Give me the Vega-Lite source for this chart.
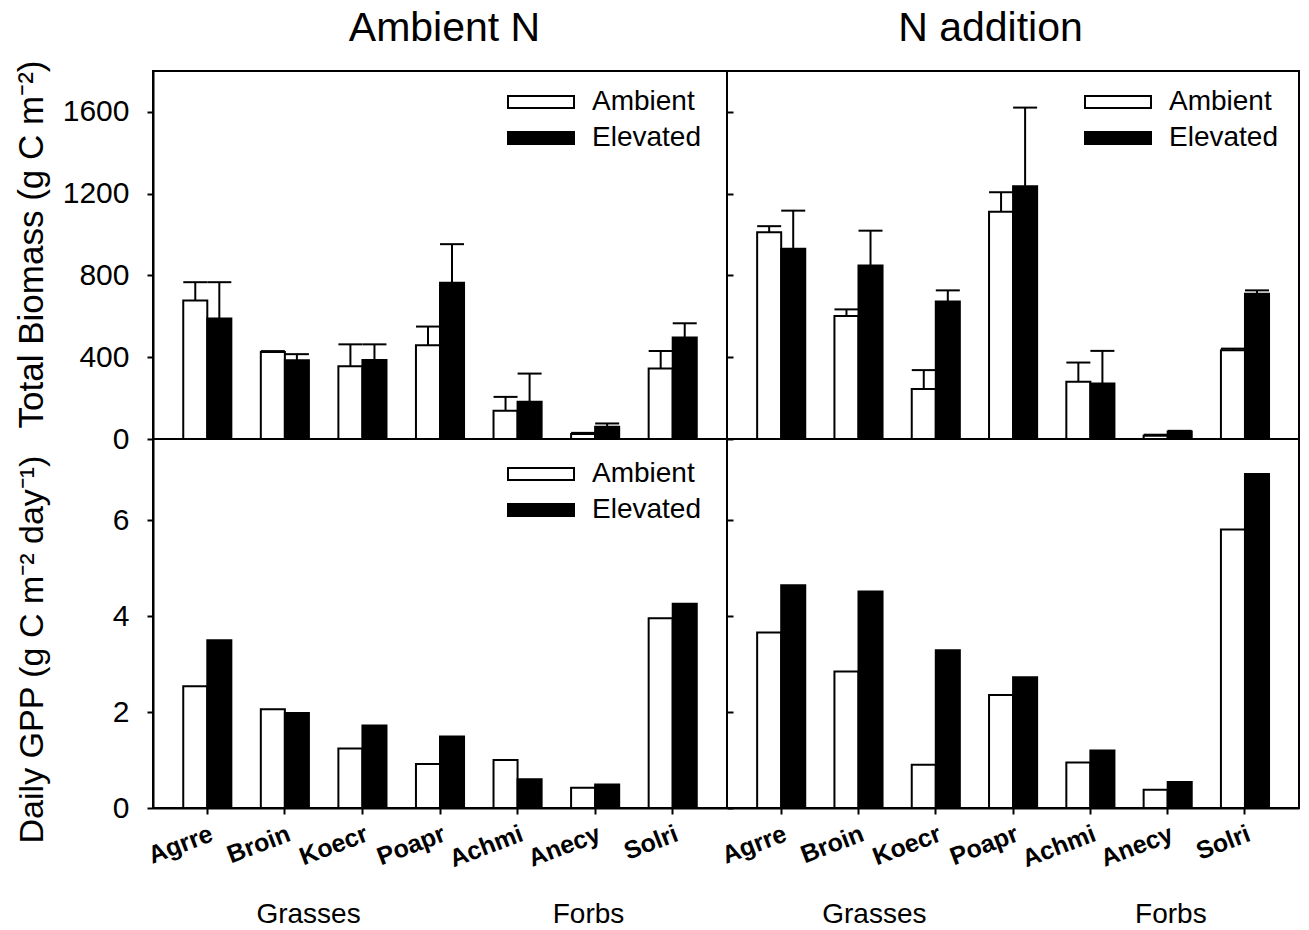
{
  "$schema": "https://vega.github.io/schema/vega-lite/v6.json",
  "background": "white",
  "padding": {"left": 12, "top": 6, "right": 0, "bottom": 0},
  "bounds": "flush",
  "spacing": 0,
  "columns": 2,
  "datasets": {
    "biomass": [
      {"nitrogen": "Ambient N", "species": "Agrre", "co2": "Ambient", "value": 678, "upper": 767},
      {"nitrogen": "Ambient N", "species": "Agrre", "co2": "Elevated", "value": 589, "upper": 767},
      {"nitrogen": "Ambient N", "species": "Broin", "co2": "Ambient", "value": 426, "upper": 430},
      {"nitrogen": "Ambient N", "species": "Broin", "co2": "Elevated", "value": 385, "upper": 415},
      {"nitrogen": "Ambient N", "species": "Koecr", "co2": "Ambient", "value": 356, "upper": 463},
      {"nitrogen": "Ambient N", "species": "Koecr", "co2": "Elevated", "value": 387, "upper": 463},
      {"nitrogen": "Ambient N", "species": "Poapr", "co2": "Ambient", "value": 459, "upper": 550},
      {"nitrogen": "Ambient N", "species": "Poapr", "co2": "Elevated", "value": 764, "upper": 953},
      {"nitrogen": "Ambient N", "species": "Achmi", "co2": "Ambient", "value": 138, "upper": 206},
      {"nitrogen": "Ambient N", "species": "Achmi", "co2": "Elevated", "value": 182, "upper": 320},
      {"nitrogen": "Ambient N", "species": "Anecy", "co2": "Ambient", "value": 24, "upper": 30},
      {"nitrogen": "Ambient N", "species": "Anecy", "co2": "Elevated", "value": 60, "upper": 76},
      {"nitrogen": "Ambient N", "species": "Solri", "co2": "Ambient", "value": 345, "upper": 431},
      {"nitrogen": "Ambient N", "species": "Solri", "co2": "Elevated", "value": 496, "upper": 566},
      {"nitrogen": "N addition", "species": "Agrre", "co2": "Ambient", "value": 1011, "upper": 1041},
      {"nitrogen": "N addition", "species": "Agrre", "co2": "Elevated", "value": 930, "upper": 1117},
      {"nitrogen": "N addition", "species": "Broin", "co2": "Ambient", "value": 602, "upper": 634},
      {"nitrogen": "N addition", "species": "Broin", "co2": "Elevated", "value": 849, "upper": 1019},
      {"nitrogen": "N addition", "species": "Koecr", "co2": "Ambient", "value": 244, "upper": 337},
      {"nitrogen": "N addition", "species": "Koecr", "co2": "Elevated", "value": 672, "upper": 727},
      {"nitrogen": "N addition", "species": "Poapr", "co2": "Ambient", "value": 1111, "upper": 1207},
      {"nitrogen": "N addition", "species": "Poapr", "co2": "Elevated", "value": 1236, "upper": 1621},
      {"nitrogen": "N addition", "species": "Achmi", "co2": "Ambient", "value": 280, "upper": 374},
      {"nitrogen": "N addition", "species": "Achmi", "co2": "Elevated", "value": 272, "upper": 431},
      {"nitrogen": "N addition", "species": "Anecy", "co2": "Ambient", "value": 16, "upper": 21},
      {"nitrogen": "N addition", "species": "Anecy", "co2": "Elevated", "value": 37, "upper": 40},
      {"nitrogen": "N addition", "species": "Solri", "co2": "Ambient", "value": 434, "upper": 442},
      {"nitrogen": "N addition", "species": "Solri", "co2": "Elevated", "value": 711, "upper": 727}
    ],
    "gpp": [
      {"nitrogen": "Ambient N", "species": "Agrre", "co2": "Ambient", "value": 2.54},
      {"nitrogen": "Ambient N", "species": "Agrre", "co2": "Elevated", "value": 3.50},
      {"nitrogen": "Ambient N", "species": "Broin", "co2": "Ambient", "value": 2.06},
      {"nitrogen": "Ambient N", "species": "Broin", "co2": "Elevated", "value": 1.98},
      {"nitrogen": "Ambient N", "species": "Koecr", "co2": "Ambient", "value": 1.24},
      {"nitrogen": "Ambient N", "species": "Koecr", "co2": "Elevated", "value": 1.72},
      {"nitrogen": "Ambient N", "species": "Poapr", "co2": "Ambient", "value": 0.92},
      {"nitrogen": "Ambient N", "species": "Poapr", "co2": "Elevated", "value": 1.49},
      {"nitrogen": "Ambient N", "species": "Achmi", "co2": "Ambient", "value": 1.00},
      {"nitrogen": "Ambient N", "species": "Achmi", "co2": "Elevated", "value": 0.60},
      {"nitrogen": "Ambient N", "species": "Anecy", "co2": "Ambient", "value": 0.42},
      {"nitrogen": "Ambient N", "species": "Anecy", "co2": "Elevated", "value": 0.49},
      {"nitrogen": "Ambient N", "species": "Solri", "co2": "Ambient", "value": 3.96},
      {"nitrogen": "Ambient N", "species": "Solri", "co2": "Elevated", "value": 4.26},
      {"nitrogen": "N addition", "species": "Agrre", "co2": "Ambient", "value": 3.66},
      {"nitrogen": "N addition", "species": "Agrre", "co2": "Elevated", "value": 4.65},
      {"nitrogen": "N addition", "species": "Broin", "co2": "Ambient", "value": 2.85},
      {"nitrogen": "N addition", "species": "Broin", "co2": "Elevated", "value": 4.52},
      {"nitrogen": "N addition", "species": "Koecr", "co2": "Ambient", "value": 0.90},
      {"nitrogen": "N addition", "species": "Koecr", "co2": "Elevated", "value": 3.29},
      {"nitrogen": "N addition", "species": "Poapr", "co2": "Ambient", "value": 2.36},
      {"nitrogen": "N addition", "species": "Poapr", "co2": "Elevated", "value": 2.73},
      {"nitrogen": "N addition", "species": "Achmi", "co2": "Ambient", "value": 0.95},
      {"nitrogen": "N addition", "species": "Achmi", "co2": "Elevated", "value": 1.20},
      {"nitrogen": "N addition", "species": "Anecy", "co2": "Ambient", "value": 0.38},
      {"nitrogen": "N addition", "species": "Anecy", "co2": "Elevated", "value": 0.54},
      {"nitrogen": "N addition", "species": "Solri", "co2": "Ambient", "value": 5.81},
      {"nitrogen": "N addition", "species": "Solri", "co2": "Elevated", "value": 6.97}
    ],
    "groups": [
      {"nitrogen": "Ambient N", "group": "Grasses"},
      {"nitrogen": "Ambient N", "group": "Forbs"},
      {"nitrogen": "N addition", "group": "Grasses"},
      {"nitrogen": "N addition", "group": "Forbs"}
    ]
  },
  "concat": [
    {
      "width": 574,
      "height": 368,
      "data": {"name": "biomass"},
      "transform": [{"filter": "datum.nitrogen === 'Ambient N'"}],
      "encoding": {
        "x": {"field": "species", "type": "nominal", "sort": ["Agrre", "Broin", "Koecr", "Poapr", "Achmi", "Anecy", "Solri"], "scale": {"type": "band", "paddingInner": 0.38, "paddingOuter": 0.39},
          "axis": {"orient": "top", "domain": false, "ticks": false, "labels": false, "title": "Ambient N", "titleFontSize": 41, "titleFont": "Liberation Sans", "titleFontWeight": "normal", "titleColor": "black", "titleX": 291, "titleY": -31, "titleBaseline": "alphabetic", "titleAlign": "center", "titleAngle": 0, "grid": false}},
        "xOffset": {"field": "co2", "type": "nominal", "sort": ["Ambient", "Elevated"], "scale": {"paddingInner": 0, "paddingOuter": 0}}
      },
      "layer": [
        {
          "mark": {"type": "bar", "stroke": "black", "strokeWidth": 2},
          "encoding": {
            "y": {"field": "value", "type": "quantitative", "scale": {"domain": [0, 1800], "nice": false},
              "axis": {"values": [0, 400, 800, 1200, 1600], "format": "d", "tickSize": 6, "tickWidth": 2, "tickColor": "black", "domainColor": "black", "domainWidth": 2, "labelFontSize": 30, "labelFont": "Liberation Sans", "labelColor": "black", "labelPadding": 18, "title": "Total Biomass (g C m⁻²)", "titleFontSize": 35, "titleFont": "Liberation Sans", "titleFontWeight": "normal", "titleColor": "black", "titleAngle": -90, "titleBaseline": "alphabetic", "titleX": -111, "titleY": 173, "grid": false}},
            "fill": {"field": "co2", "type": "nominal", "scale": {"domain": ["Ambient", "Elevated"], "range": ["white", "black"]},
              "legend": {"orient": "none", "legendX": 347, "legendY": 17, "title": null, "direction": "vertical", "labelFontSize": 28, "labelFont": "Liberation Sans", "labelColor": "black", "labelOffset": 64, "symbolType": "M-1,-1H10V1H-1Z", "symbolSize": 144, "symbolStrokeColor": "black", "symbolStrokeWidth": 2, "rowPadding": 8, "padding": 0, "labelLimit": 300}}
          }
        },
        {
          "mark": {"type": "rule", "strokeWidth": 2, "color": "black"},
          "encoding": {"y": {"field": "value", "type": "quantitative"}, "y2": {"field": "upper"}}
        },
        {
          "mark": {"type": "tick", "size": 24, "thickness": 2, "color": "black", "opacity": 1},
          "encoding": {"y": {"field": "upper", "type": "quantitative"}}
        }
      ]
    },
    {
      "width": 572,
      "height": 368,
      "data": {"name": "biomass"},
      "transform": [{"filter": "datum.nitrogen === 'N addition'"}],
      "encoding": {
        "x": {"field": "species", "type": "nominal", "sort": ["Agrre", "Broin", "Koecr", "Poapr", "Achmi", "Anecy", "Solri"], "scale": {"type": "band", "paddingInner": 0.38, "paddingOuter": 0.39},
          "axis": {"orient": "top", "domain": false, "ticks": false, "labels": false, "title": "N addition", "titleFontSize": 41, "titleFont": "Liberation Sans", "titleFontWeight": "normal", "titleColor": "black", "titleX": 263, "titleY": -31, "titleBaseline": "alphabetic", "titleAlign": "center", "titleAngle": 0, "grid": false}},
        "xOffset": {"field": "co2", "type": "nominal", "sort": ["Ambient", "Elevated"], "scale": {"paddingInner": 0, "paddingOuter": 0}}
      },
      "layer": [
        {
          "mark": {"type": "bar", "stroke": "black", "strokeWidth": 2},
          "encoding": {
            "y": {"field": "value", "type": "quantitative", "scale": {"domain": [0, 1800], "nice": false},
              "axis": {"values": [0, 400, 800, 1200, 1600], "offset": -6, "domain": false, "labels": false, "tickSize": 6, "tickWidth": 2, "tickColor": "black", "title": null, "grid": false}},
            "fill": {"field": "co2", "type": "nominal", "scale": {"domain": ["Ambient", "Elevated"], "range": ["white", "black"]},
              "legend": {"orient": "none", "legendX": 350, "legendY": 17, "title": null, "direction": "vertical", "labelFontSize": 28, "labelFont": "Liberation Sans", "labelColor": "black", "labelOffset": 64, "symbolType": "M-1,-1H10V1H-1Z", "symbolSize": 144, "symbolStrokeColor": "black", "symbolStrokeWidth": 2, "rowPadding": 8, "padding": 0, "labelLimit": 300}}
          }
        },
        {
          "mark": {"type": "rule", "strokeWidth": 2, "color": "black"},
          "encoding": {"y": {"field": "value", "type": "quantitative"}, "y2": {"field": "upper"}}
        },
        {
          "mark": {"type": "tick", "size": 24, "thickness": 2, "color": "black", "opacity": 1},
          "encoding": {"y": {"field": "upper", "type": "quantitative"}}
        }
      ]
    },
    {
      "width": 574,
      "height": 369,
      "layer": [
        {
          "data": {"name": "gpp"},
          "transform": [{"filter": "datum.nitrogen === 'Ambient N'"}],
          "mark": {"type": "bar", "stroke": "black", "strokeWidth": 2},
          "encoding": {
            "x": {"field": "species", "type": "nominal", "sort": ["Agrre", "Broin", "Koecr", "Poapr", "Achmi", "Anecy", "Solri"], "scale": {"type": "band", "paddingInner": 0.38, "paddingOuter": 0.39},
              "axis": {"title": null, "labelAngle": -21, "labelAlign": "right", "labelBaseline": "top", "labelFontSize": 25, "labelFontWeight": "bold", "labelFont": "Liberation Sans", "labelColor": "black", "labelPadding": 7, "tickSize": 6, "tickWidth": 2, "tickColor": "black", "domainColor": "black", "domainWidth": 2, "labelOverlap": false, "grid": false}},
            "xOffset": {"field": "co2", "type": "nominal", "sort": ["Ambient", "Elevated"], "scale": {"paddingInner": 0, "paddingOuter": 0}},
            "y": {"field": "value", "type": "quantitative", "scale": {"domain": [0, 7.7], "nice": false},
              "axis": {"values": [0, 2, 4, 6], "format": "d", "tickSize": 6, "tickWidth": 2, "tickColor": "black", "domainColor": "black", "domainWidth": 2, "labelFontSize": 30, "labelFont": "Liberation Sans", "labelColor": "black", "labelPadding": 18, "title": "Daily GPP (g C m⁻² day⁻¹)", "titleFontSize": 34, "titleFont": "Liberation Sans", "titleFontWeight": "normal", "titleColor": "black", "titleAngle": -90, "titleBaseline": "alphabetic", "titleX": -111, "titleY": 210, "grid": false}},
            "fill": {"field": "co2", "type": "nominal", "scale": {"domain": ["Ambient", "Elevated"], "range": ["white", "black"]},
              "legend": {"orient": "none", "legendX": 347, "legendY": 21, "title": null, "direction": "vertical", "labelFontSize": 28, "labelFont": "Liberation Sans", "labelColor": "black", "labelOffset": 64, "symbolType": "M-1,-1H10V1H-1Z", "symbolSize": 144, "symbolStrokeColor": "black", "symbolStrokeWidth": 2, "rowPadding": 8, "padding": 0, "labelLimit": 300}}
          }
        },
        {
          "data": {"name": "groups"},
          "transform": [{"filter": "datum.nitrogen === 'Ambient N'"}],
          "mark": {"type": "text", "fontSize": 28, "font": "Liberation Sans", "color": "black", "baseline": "alphabetic", "align": "center"},
          "encoding": {
            "x": {"field": "group", "type": "nominal", "sort": ["Grasses", "Forbs"], "scale": {"type": "point", "padding": 0.525, "align": 0.529}, "axis": null},
            "y": {"datum": -2.394, "type": "quantitative"},
            "text": {"field": "group"}
          }
        }
      ],
      "resolve": {"scale": {"x": "independent"}, "axis": {"x": "independent"}}
    },
    {
      "width": 572,
      "height": 369,
      "layer": [
        {
          "data": {"name": "gpp"},
          "transform": [{"filter": "datum.nitrogen === 'N addition'"}],
          "mark": {"type": "bar", "stroke": "black", "strokeWidth": 2},
          "encoding": {
            "x": {"field": "species", "type": "nominal", "sort": ["Agrre", "Broin", "Koecr", "Poapr", "Achmi", "Anecy", "Solri"], "scale": {"type": "band", "paddingInner": 0.38, "paddingOuter": 0.39},
              "axis": {"title": null, "labelAngle": -21, "labelAlign": "right", "labelBaseline": "top", "labelFontSize": 25, "labelFontWeight": "bold", "labelFont": "Liberation Sans", "labelColor": "black", "labelPadding": 7, "tickSize": 6, "tickWidth": 2, "tickColor": "black", "domainColor": "black", "domainWidth": 2, "labelOverlap": false, "grid": false}},
            "xOffset": {"field": "co2", "type": "nominal", "sort": ["Ambient", "Elevated"], "scale": {"paddingInner": 0, "paddingOuter": 0}},
            "y": {"field": "value", "type": "quantitative", "scale": {"domain": [0, 7.7], "nice": false},
              "axis": {"values": [0, 2, 4, 6], "offset": -6, "domain": false, "labels": false, "tickSize": 6, "tickWidth": 2, "tickColor": "black", "title": null, "grid": false}},
            "fill": {"field": "co2", "type": "nominal", "scale": {"domain": ["Ambient", "Elevated"], "range": ["white", "black"]}, "legend": null}
          }
        },
        {
          "data": {"name": "groups"},
          "transform": [{"filter": "datum.nitrogen === 'N addition'"}],
          "mark": {"type": "text", "fontSize": 28, "font": "Liberation Sans", "color": "black", "baseline": "alphabetic", "align": "center"},
          "encoding": {
            "x": {"field": "group", "type": "nominal", "sort": ["Grasses", "Forbs"], "scale": {"type": "point", "padding": 0.4646, "align": 0.535}, "axis": null},
            "y": {"datum": -2.394, "type": "quantitative"},
            "text": {"field": "group"}
          }
        }
      ],
      "resolve": {"scale": {"x": "independent"}, "axis": {"x": "independent"}}
    }
  ],
  "resolve": {"scale": {"fill": "independent"}, "legend": {"fill": "independent"}},
  "config": {
    "view": {"stroke": "black", "strokeWidth": 2},
    "axis": {"grid": false},
    "font": "Liberation Sans"
  }
}
